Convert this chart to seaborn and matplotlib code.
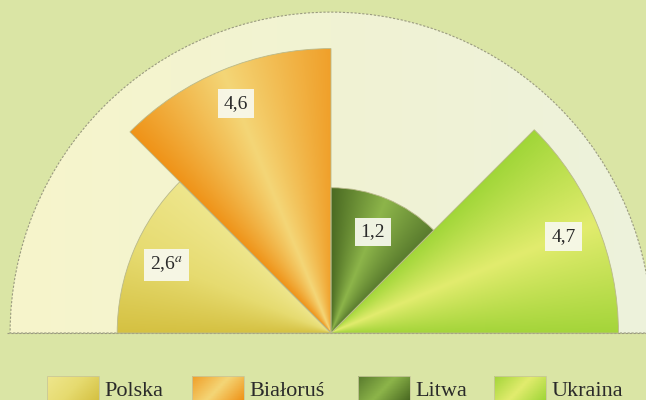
import numpy as np
import seaborn as sns
import matplotlib.pyplot as plt
from matplotlib.patches import Wedge, Rectangle
from matplotlib.colors import LinearSegmentedColormap

# Data
countries = ['Polska', 'Białoruś', 'Litwa', 'Ukraina']
values = [2.6, 4.6, 1.2, 4.7]
value_labels = ['2,6$^{a}$', '4,6', '1,2', '4,7']

# sector angles (degrees), one 45-degree slice per country
start_angles = [135, 90, 45, 0]
SPAN = 45

# gradient stops per sector: (at start angle, middle, at end angle)
stops = {
    'Polska':   ['#eee68c', '#e6db70', '#d5c142'],
    'Białoruś': ['#f0a02a', '#f4d677', '#ef9318'],
    'Litwa':    ['#5a7c2e', '#8db54a', '#4a6a22'],
    'Ukraina':  ['#a4d53a', '#e2ec6e', '#a0d638'],
}

sns.set_theme(style='white')
plt.rcParams['font.family'] = ['Liberation Serif', 'DejaVu Serif']
plt.rcParams['mathtext.fontset'] = 'stix'

PX = 132.6  # pixels per unit of sqrt(value)
OUTER = 2.42
fig = plt.figure(figsize=(6.46, 4.0), dpi=100, facecolor='#dae5a5')
ax = fig.add_axes([0, 0, 1, 1])
ax.set_facecolor('#dae5a5')
xmin, xmax = -331 / PX, 315 / PX
ymin, ymax = -67 / PX, 333 / PX
ax.set_xlim(xmin, xmax)
ax.set_ylim(ymin, ymax)
ax.set_aspect('equal')
ax.axis('off')

# background semicircle with soft gradient
gx = np.linspace(0, 1, 300)[None, :]
bg_cmap = LinearSegmentedColormap.from_list('bg', ['#f7f5cb', '#f1f3d3', '#edf2dc'])
bg = Wedge((0, 0), OUTER, 0, 180, fc='none', ec='#9a9a80', lw=0.8, ls=(0, (2, 1.5)), zorder=1)
ax.add_patch(bg)
im = ax.imshow(np.repeat(gx, 10, axis=0), cmap=bg_cmap, extent=[-OUTER, OUTER, 0, OUTER],
               origin='lower', aspect='auto', zorder=0.5)
im.set_clip_path(bg)
ax.plot([-OUTER - 0.02, xmax], [0, 0], color='#9a9a80', lw=0.8, ls=(0, (2, 1.5)), zorder=1)

# angle grid for the sector gradients
X, Y = np.meshgrid(np.linspace(-2.5, 2.5, 700), np.linspace(0, 2.5, 350))
theta = np.degrees(np.arctan2(Y, X))

for name, val, a0, lab in zip(countries, values, start_angles, value_labels):
    r = np.sqrt(val)
    cmap = LinearSegmentedColormap.from_list(name, stops[name])
    t = np.clip((theta - a0) / SPAN, 0, 1)
    w = Wedge((0, 0), r, a0, a0 + SPAN, fc='none', ec='#b9b98a', lw=0.6, zorder=3)
    ax.add_patch(w)
    img = ax.imshow(t, cmap=cmap, vmin=0, vmax=1, extent=[-2.5, 2.5, 0, 2.5],
                    origin='lower', aspect='auto', zorder=2)
    img.set_clip_path(w)
    mid = np.radians(a0 + SPAN / 2)
    rl = r - 0.27
    ax.text(rl * np.cos(mid), rl * np.sin(mid), lab, ha='center', va='center',
            fontsize=14, color='#2a2a2a', zorder=5,
            bbox=dict(boxstyle='square,pad=0.3', fc='#f8f9ee', ec='none', alpha=0.93))

# legend with gradient swatches
swatch_x = [47, 192, 358, 494]
for name, sx in zip(countries, swatch_x):
    x0 = (sx - 331) / PX
    x1 = (sx + 52 - 331) / PX
    y0 = (333 - 401) / PX
    y1 = (333 - 376) / PX
    rect = Rectangle((x0, y0), x1 - x0, y1 - y0, fc='none', ec='#c8c89a', lw=0.6, zorder=3)
    ax.add_patch(rect)
    cmap = LinearSegmentedColormap.from_list(name + 'l', stops[name])
    g = np.linspace(0, 1, 50)[None, :] * 0.7 + np.linspace(0, 1, 10)[:, None] * 0.3
    sim = ax.imshow(g, cmap=cmap, extent=[x0, x1, y0, y1], origin='upper',
                    aspect='auto', zorder=2)
    sim.set_clip_path(rect)
    ax.text(x1 + 5 / PX, (333 - 396) / PX, name, ha='left', va='baseline',
            fontsize=16, color='#2a2a2a')

fig.savefig('out.png', dpi=100, facecolor=fig.get_facecolor())
